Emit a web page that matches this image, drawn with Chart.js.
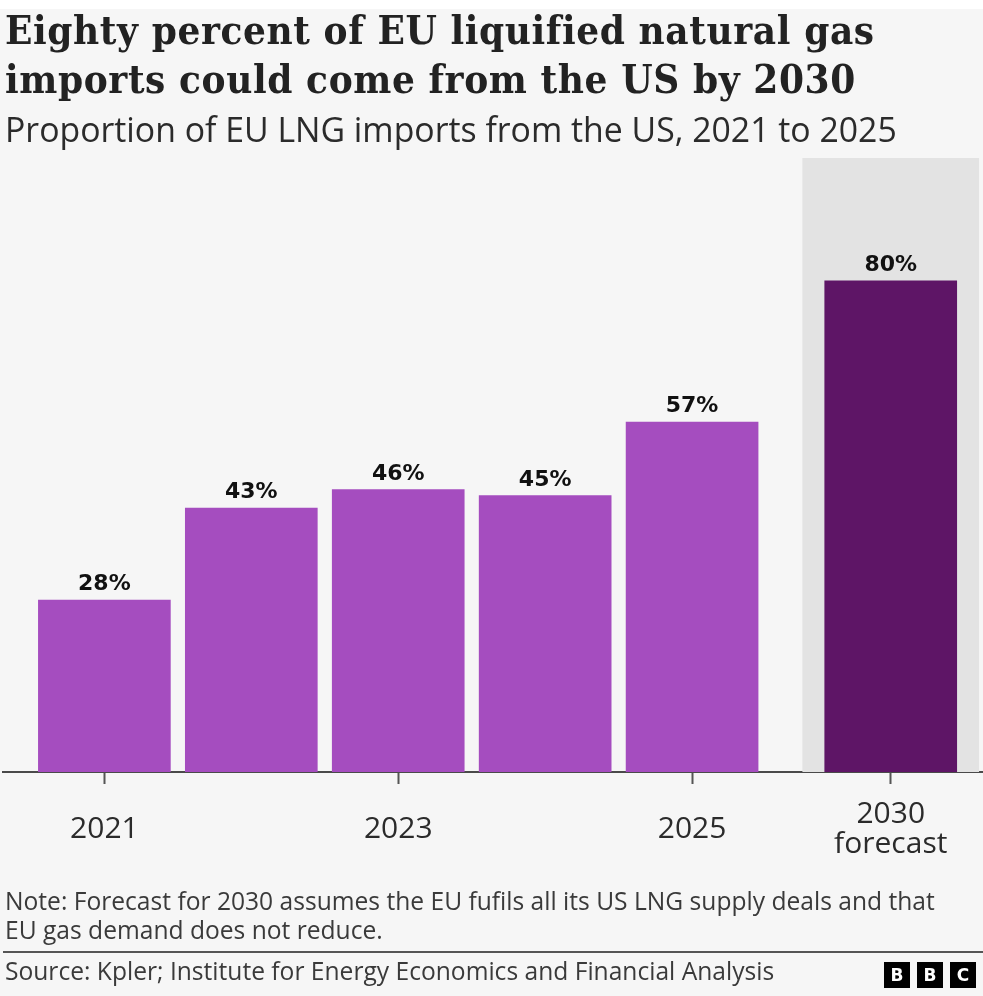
<!DOCTYPE html>
<html>
<head>
<meta charset="utf-8">
<script src="https://cdn.jsdelivr.net/npm/chart.js@4.4.1/dist/chart.umd.min.js"></script>
<style>
  html, body { margin:0; padding:0; background:#f6f6f6; width:983px; height:996px; overflow:hidden; }
  #topstrip { position:absolute; left:0; top:0; width:983px; height:9px; background:#ffffff; }
  #wrap { position:absolute; left:0; top:0; width:983px; height:996px; }
  .txt { position:absolute; left:5px; white-space:nowrap; color:#2b2b2b; }
  #title { top:5px; font-family:"DejaVu Serif Condensed", "DejaVu Serif", serif; font-weight:bold; font-size:40px; letter-spacing:0.6px; line-height:49px; color:#222; }
  #subtitle { top:109px; font-family:"Open Sans", sans-serif; font-size:33.8px; line-height:40px; color:#2b2b2b; }
  #note { top:886px; font-family:"Open Sans", sans-serif; font-size:24.6px; line-height:29px; color:#3a3a3a; }
  #rule { position:absolute; left:3px; top:951px; width:980px; height:2px; background:#555; }
  #source { top:956px; font-family:"Open Sans", sans-serif; font-size:24.6px; line-height:29px; color:#3a3a3a; }
  .bbc { position:absolute; top:962px; width:26px; height:26px; background:#000; color:#fff;
         font-family:"DejaVu Sans", sans-serif; font-weight:bold; font-size:17px; line-height:26px; text-align:center; }
</style>
</head>
<body>
<div id="topstrip"></div>
<div id="wrap"><canvas id="chart" width="983" height="996"></canvas></div>
<div class="txt" id="title">Eighty percent of EU liquified natural gas<br>imports could come from the US by 2030</div>
<div class="txt" id="subtitle">Proportion of EU LNG imports from the US, 2021 to 2025</div>
<div class="txt" id="note">Note: Forecast for 2030 assumes the EU fufils all its US LNG supply deals and that<br>EU gas demand does not reduce.</div>
<div id="rule"></div>
<div class="txt" id="source">Source: Kpler; Institute for Energy Economics and Financial Analysis</div>
<div class="bbc" style="left:884px">B</div>
<div class="bbc" style="left:917px">B</div>
<div class="bbc" style="left:950px">C</div>
<script>
// ---- data ----
const categories = ['2021', '2022', '2023', '2024', '2025', '2030 forecast'];
const values = [28, 43, 46, 45, 57, 80];
const isForecast = [false, false, false, false, false, true];
const tickCategories = ['2021', '2023', '2025', '2030 forecast'];
const tickLabels = ['2021', '2023', '2025', ['2030', 'forecast']];
const valueSuffix = '%';
const axisMax = 100;

// ---- layout / style ----
const FORECAST_GAP = 0.352;
const COLOR_ACTUAL = '#a54dbf';
const COLOR_FORECAST = '#5e1566';
const COLOR_BAND = '#e3e3e3';

const positions = categories.map((c, i) => i + (isForecast[i] ? FORECAST_GAP : 0));
const barData = categories.map((c, i) => ({ x: positions[i], y: values[i] }));
const bandData = categories.map((c, i) => isForecast[i] ? { x: positions[i], y: axisMax } : null).filter(Boolean);
const tickPositions = tickCategories.map(c => positions[categories.indexOf(c)]);

const valueLabels = {
  id: 'valueLabels',
  afterDatasetsDraw(chart) {
    const ctx = chart.ctx;
    const meta = chart.getDatasetMeta(0);
    ctx.save();
    ctx.font = 'bold 22px "DejaVu Sans", sans-serif';
    ctx.fillStyle = '#111';
    ctx.textAlign = 'center';
    ctx.textBaseline = 'alphabetic';
    meta.data.forEach((el, i) => {
      ctx.fillText(values[i] + valueSuffix, el.x, el.y - 10);
    });
    ctx.restore();
  }
};

new Chart(document.getElementById('chart'), {
  type: 'bar',
  data: {
    datasets: [
      {
        label: 'Share of EU LNG imports from US',
        data: barData,
        backgroundColor: categories.map((c, i) => isForecast[i] ? COLOR_FORECAST : COLOR_ACTUAL),
        barThickness: 132,
        grouped: false,
        order: 1
      },
      {
        label: 'Forecast band',
        data: bandData,
        backgroundColor: COLOR_BAND,
        barThickness: 176,
        grouped: false,
        order: 2
      }
    ]
  },
  options: {
    responsive: false,
    animation: false,
    layout: { padding: { top: 158, left: 3, right: 0, bottom: 124 } },
    plugins: { legend: { display: false }, tooltip: { enabled: false }, title: { display: false } },
    scales: {
      y: { display: false, min: 0, max: axisMax },
      x: {
        type: 'linear',
        min: -0.69,
        max: 5.98,
        offset: false,
        afterBuildTicks(scale) { scale.ticks = tickPositions.map(v => ({ value: v })); },
        afterFit(scale) { scale.height = 100; },
        grid: { offset: false, drawOnChartArea: false, drawTicks: true, tickLength: 12, tickColor: '#555', tickWidth: 2, color: '#555' },
        border: { display: true, color: '#4a4a4a', width: 2 },
        ticks: {
          autoSkip: false,
          maxRotation: 0,
          padding: 30,
          crossAlign: 'center',
          color: '#2b2b2b',
          font: { family: '"Open Sans", sans-serif', size: 30, lineHeight: 1.03 },
          callback(value) {
            const idx = tickPositions.findIndex(p => Math.abs(p - value) < 1e-6);
            return idx >= 0 ? tickLabels[idx] : '';
          }
        }
      }
    }
  },
  plugins: [valueLabels]
});
</script>
</body>
</html>
